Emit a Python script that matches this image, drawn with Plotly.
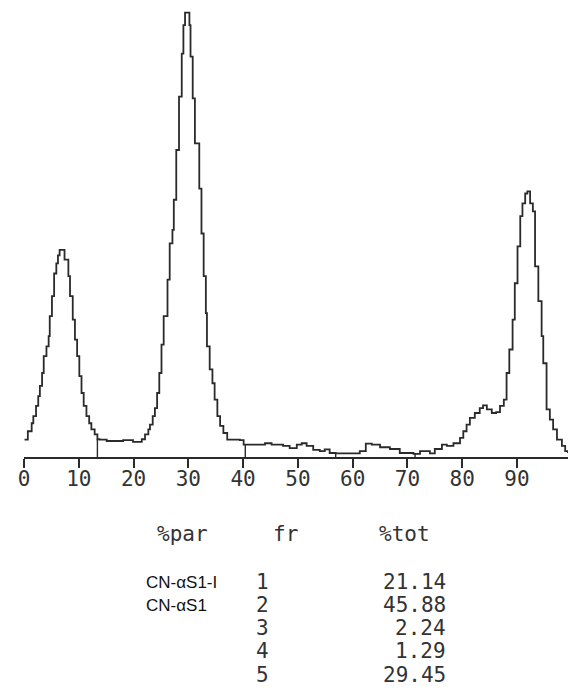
import numpy as np
import plotly.graph_objects as go

# Elution time (min) and detector signal (% of the largest peak)
time_min = [
    0.1, 0.7, 1.4, 1.7, 2.2, 2.6, 2.9, 3.3, 3.6, 4.1, 4.5, 4.7, 5.1, 5.5, 5.9,
    6.2, 6.5, 7.1, 7.4, 8.1, 8.4, 8.9, 9.3, 9.7, 10.1, 10.5, 10.9, 11.4, 11.9,
    12.3, 12.9, 13.4, 13.8, 15.1, 18.1, 19.9, 21.5, 22.1, 22.7, 23.0, 23.5,
    23.9, 24.3, 24.7, 25.1, 25.5, 26.2, 26.6, 27.1, 27.35, 27.8, 28.3, 28.8,
    29.1, 29.4, 30.0, 30.2, 30.4, 30.8, 31.2, 32.0, 32.4, 32.8, 33.2, 33.4,
    33.9, 34.4, 34.8, 35.3, 35.8, 36.4, 37.1, 39.4, 40.1, 41.8, 44.0, 45.2,
    47.3, 48.5, 49.8, 50.7, 51.6, 52.8, 54.0, 54.9, 55.8, 56.9, 60.1, 61.3,
    62.4, 63.5, 65.0, 66.8, 68.6, 71.1, 72.3, 74.1, 75.0, 76.3, 77.2, 78.4,
    79.6, 80.2, 80.8, 81.4, 82.3, 83.2, 83.8, 84.5, 85.4, 86.2, 86.9, 87.6,
    88.1, 88.6, 89.2, 89.6, 90.1, 90.6, 91.0, 91.5, 91.9, 92.4, 92.9, 93.3,
    93.9, 94.5, 94.8, 95.4, 96.0, 96.6, 97.3, 98.2, 98.8, 99.3,
]
signal = [
    3.9, 5.8, 7.6, 9.2, 11.5, 13.7, 16.0, 18.9, 22.7, 24.9, 27.2, 31.7, 36.2,
    41.3, 43.6, 45.4, 46.6, 46.6, 44.4, 40.7, 36.2, 30.9, 26.4, 22.7, 18.2,
    14.4, 11.5, 9.2, 7.6, 6.2, 5.1, 4.0, 3.9, 3.6, 3.8, 3.4, 4.0, 5.1, 6.2,
    7.3, 9.2, 11.0, 14.4, 18.9, 25.3, 31.7, 39.9, 48.1, 51.1, 57.9, 69.1,
    81.1, 90.8, 97.2, 100.0, 100.0, 97.2, 90.1, 80.7, 70.6, 60.4, 50.3, 40.7,
    32.4, 24.9, 19.7, 16.6, 12.9, 9.2, 7.0, 5.4, 3.9, 3.8, 2.8, 2.8, 3.1, 2.8,
    2.5, 2.0, 2.8, 3.1, 2.5, 1.6, 1.3, 1.7, 0.9, 0.8, 0.8, 1.3, 3.0, 2.8, 2.2,
    1.8, 0.9, 0.7, 1.3, 0.8, 1.8, 2.8, 2.5, 3.1, 4.3, 5.8, 7.3, 8.8, 9.9, 11.0,
    11.6, 10.7, 9.9, 10.1, 11.5, 12.9, 18.9, 24.2, 30.9, 39.1, 47.4, 54.2,
    57.1, 59.3, 59.8, 57.1, 55.3, 42.9, 35.1, 27.2, 21.1, 10.7, 8.4, 6.2, 3.9,
    2.5, 1.3, 0.9,
]

# Integrator cut points between fractions
boundaries = [13.4, 40.4, 56.9, 71.4]

tick_values = [0, 10, 20, 30, 40, 50, 60, 70, 80, 90]
tick_labels = ["0", "10", "20", "30", "40", "50", "60", "70", "80", "90"]

# Integration report
headers = ["%par", "fr", "%tot"]
peak_names = ["CN-αS1-I", "CN-αS1", "", "", ""]
fractions = ["1", "2", "3", "4", "5"]
pct_tot = [21.14, 45.88, 2.24, 1.29, 29.45]

W, H = 568, 691
LEFT = 24.25          # left margin (px)
BASE = 457.5          # height of plot area (px), baseline at its bottom
INK = "#2a2a2a"
MONO = "DejaVu Sans Mono"


def to_paper(px, py):
    """Page pixel position -> paper coordinates of the plot area."""
    return (px - LEFT) / (W - LEFT), (BASE - py) / BASE


fig = go.Figure()

# stepped detector trace, as printed by the integrator
fig.add_trace(go.Scatter(
    x=time_min, y=signal, mode="lines",
    line=dict(color=INK, width=1.8, shape="hv"),
    hoverinfo="skip", showlegend=False,
))

# Drop lines from the curve down to the baseline at each cut point
drop_x, drop_y = [], []
for b in boundaries:
    top = float(np.interp(b, time_min, signal))
    drop_x += [b, b, None]
    drop_y += [0, top, None]
fig.add_trace(go.Scatter(
    x=drop_x, y=drop_y, mode="lines",
    line=dict(color=INK, width=1.4),
    hoverinfo="skip", showlegend=False,
))

annotations = []
# header row
for text, cx in zip(headers, [183, 286, 405]):
    px, py = to_paper(cx, 535)
    annotations.append(dict(text=text, x=px, y=py, xanchor="center",
                            yanchor="middle", font=dict(family=MONO, size=21, color="#333")))

row_y = [583, 606, 629, 652, 676]
for name, fr, val, ry in zip(peak_names, fractions, pct_tot, row_y):
    if name:
        px, py = to_paper(144, ry)
        annotations.append(dict(text=name, x=px, y=py, xanchor="left", yanchor="middle",
                                font=dict(family="Liberation Sans", size=17, color="#111")))
    px, py = to_paper(263, ry)
    annotations.append(dict(text=fr, x=px, y=py, xanchor="center", yanchor="middle",
                            font=dict(family=MONO, size=21, color="#333")))
    px, py = to_paper(448, ry)
    annotations.append(dict(text=f"{val:.2f}", x=px, y=py, xanchor="right", yanchor="middle",
                            font=dict(family=MONO, size=21, color="#333")))

for a in annotations:
    a.update(xref="paper", yref="paper", showarrow=False)

fig.update_layout(
    width=W, height=H,
    margin=dict(l=LEFT, r=0, t=0, b=H - BASE, pad=0),
    paper_bgcolor="white", plot_bgcolor="white",
    xaxis=dict(
        range=[0, (W - LEFT) / 5.475],
        tickvals=tick_values, ticktext=tick_labels,
        ticks="outside", ticklen=9, tickwidth=1.5, tickcolor=INK,
        ticklabelstandoff=-7,
        showline=True, linecolor=INK, linewidth=2,
        showgrid=False, zeroline=False, automargin=False,
        tickfont=dict(family=MONO, size=21, color="#333"),
    ),
    yaxis=dict(
        range=[0, BASE / 4.448], visible=False,
        showgrid=False, zeroline=False, automargin=False,
    ),
    annotations=annotations,
)

fig.write_html("out.html")
